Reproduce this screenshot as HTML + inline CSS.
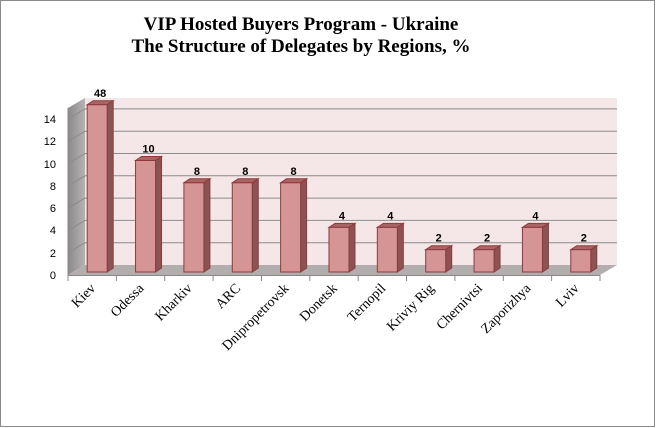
<!DOCTYPE html>
<html><head><meta charset="utf-8"><style>
html,body{margin:0;padding:0;background:#fff}
svg{display:block}
</style></head><body>
<svg width="656" height="428" viewBox="0 0 656 428" xmlns="http://www.w3.org/2000/svg">
<defs>
<linearGradient id="lw" x1="0" y1="0" x2="1" y2="0"><stop offset="0" stop-color="#8c8a8a"/><stop offset="1" stop-color="#b5b2b2"/></linearGradient>
</defs>
<rect x="0.5" y="0.5" width="654" height="426" fill="#fff" stroke="#8a8a8a"/>
<text x="301" y="30" text-anchor="middle" font-family="Liberation Serif, serif" font-weight="bold" font-size="19">VIP Hosted Buyers Program - Ukraine</text>
<text x="301" y="52" text-anchor="middle" font-family="Liberation Serif, serif" font-weight="bold" font-size="19">The Structure of Delegates by Regions, %</text>
<rect x="85" y="98" width="532" height="167" fill="#f5e7e7"/>
<polygon points="68,108 85,98 85,265 68,275" fill="url(#lw)"/>
<polygon points="68,275 85,265 617,265 600,275" fill="#b3aeae"/>
<g stroke="#8c8c8c" stroke-width="1">
<line x1="85" y1="242.7" x2="617" y2="242.7"/><line x1="85" y1="220.4" x2="617" y2="220.4"/>
<line x1="85" y1="198.1" x2="617" y2="198.1"/><line x1="85" y1="175.8" x2="617" y2="175.8"/>
<line x1="85" y1="153.5" x2="617" y2="153.5"/><line x1="85" y1="131.2" x2="617" y2="131.2"/>
<line x1="85" y1="108.9" x2="617" y2="108.9"/>
<line x1="68" y1="252.7" x2="85" y2="242.7"/><line x1="68" y1="230.4" x2="85" y2="220.4"/>
<line x1="68" y1="208.1" x2="85" y2="198.1"/><line x1="68" y1="185.8" x2="85" y2="175.8"/>
<line x1="68" y1="163.5" x2="85" y2="153.5"/><line x1="68" y1="141.2" x2="85" y2="131.2"/>
<line x1="68" y1="118.9" x2="85" y2="108.9"/>
</g>
<line x1="68" y1="108" x2="68" y2="276" stroke="#888"/>
<line x1="68" y1="275.5" x2="600" y2="275.5" stroke="#888"/>
<g stroke="#888">
<line x1="68" y1="275" x2="68" y2="281"/><line x1="116.4" y1="275" x2="116.4" y2="281"/><line x1="164.7" y1="275" x2="164.7" y2="281"/>
<line x1="213.1" y1="275" x2="213.1" y2="281"/><line x1="261.5" y1="275" x2="261.5" y2="281"/><line x1="309.8" y1="275" x2="309.8" y2="281"/>
<line x1="358.2" y1="275" x2="358.2" y2="281"/><line x1="406.5" y1="275" x2="406.5" y2="281"/><line x1="454.9" y1="275" x2="454.9" y2="281"/>
<line x1="503.3" y1="275" x2="503.3" y2="281"/><line x1="551.6" y1="275" x2="551.6" y2="281"/><line x1="600" y1="275" x2="600" y2="281"/>
</g>
<g font-family="Liberation Sans, sans-serif" font-size="11" text-anchor="end" fill="#000">
<text x="56" y="279">0</text><text x="56" y="257">2</text><text x="56" y="234">4</text><text x="56" y="212">6</text>
<text x="56" y="190">8</text><text x="56" y="168">10</text><text x="56" y="145">12</text><text x="56" y="123">14</text>
</g>
<g id="bars" stroke="#8e3a3a" stroke-width="1"></g>
<g id="vals" font-family="Liberation Sans, sans-serif" font-size="11" font-weight="bold" text-anchor="middle"></g>
<g id="cats" font-family="Liberation Serif, serif" font-size="14" text-anchor="end"></g>
<script>
var names=["Kiev","Odessa","Kharkiv","ARC","Dnipropetrovsk","Donetsk","Ternopil","Kriviy Rig","Chernivtsi","Zaporizhya","Lviv"];
var v=[15,10,8,8,8,4,4,2,2,4,2];
var lab=["48","10","8","8","8","4","4","2","2","4","2"];
var ns="http://www.w3.org/2000/svg";
var B=document.getElementById("bars"),V=document.getElementById("vals"),C=document.getElementById("cats");
function el(t,a,p,txt){var e=document.createElementNS(ns,t);for(var k in a)e.setAttribute(k,a[k]);if(txt)e.textContent=txt;p.appendChild(e);return e;}
for(var i=0;i<11;i++){
 var c=68+48.36*(i+0.5)+5, x0=c-10, x1=c+10, yb=272, yt=yb-v[i]*11.15;
 el("polygon",{points:x0+","+yt+" "+(x0+6)+","+(yt-4)+" "+(x1+6)+","+(yt-4)+" "+x1+","+yt,fill:"#a86565"},B);
 el("polygon",{points:x1+","+yt+" "+(x1+6)+","+(yt-4)+" "+(x1+6)+","+(yb-4)+" "+x1+","+yb,fill:"#8a5454"},B);
 el("rect",{x:x0,y:yt,width:20,height:yb-yt,fill:"#d49594"},B);
 el("text",{x:c+3,y:yt-8},V,lab[i]);
 var cx=68+48.36*(i+0.5)+4;
 el("text",{x:cx,y:289,transform:"rotate(-45 "+cx+" 289)"},C,names[i]);
}
</script>
</svg>
</body></html>
